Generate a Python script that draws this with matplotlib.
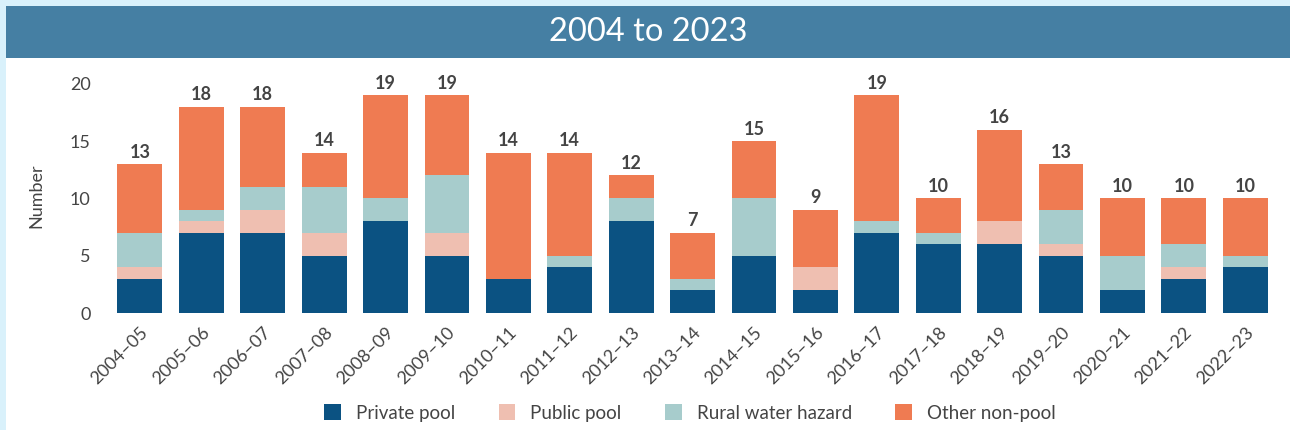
import matplotlib.pyplot as plt
from matplotlib.patches import Rectangle
import numpy as np

plt.rcParams['font.family'] = ['Lato', 'DejaVu Sans']

# data
years = ['2004–05', '2005–06', '2006–07', '2007–08', '2008–09', '2009–10', '2010–11',
         '2011–12', '2012–13', '2013–14', '2014–15', '2015–16', '2016–17', '2017–18',
         '2018–19', '2019–20', '2020–21', '2021–22', '2022–23']
private_pool = [3, 7, 7, 5, 8, 5, 3, 4, 8, 2, 5, 2, 7, 6, 6, 5, 2, 3, 4]
public_pool  = [1, 1, 2, 2, 0, 2, 0, 0, 0, 0, 0, 2, 0, 0, 2, 1, 0, 1, 0]
rural_water  = [3, 1, 2, 4, 2, 5, 0, 1, 2, 1, 5, 0, 1, 1, 0, 3, 3, 2, 1]
other_nonpool = [6, 9, 7, 3, 9, 7, 11, 9, 2, 4, 5, 5, 11, 3, 8, 4, 5, 4, 5]

series = [('Private pool', private_pool, '#0b5282'),
          ('Public pool', public_pool, '#efbfb1'),
          ('Rural water hazard', rural_water, '#a7cccc'),
          ('Other non-pool', other_nonpool, '#ef7b52')]

W, H = 1290, 430
fig = plt.figure(figsize=(W / 100, H / 100), dpi=100, facecolor='#d9f1fb')

# white panel and title banner
fig.patches.append(Rectangle((6 / W, 0), 1, (H - 6) / H, transform=fig.transFigure,
                             facecolor='white', edgecolor='none', zorder=0))
fig.patches.append(Rectangle((6 / W, (H - 58) / H), 1, 52 / H, transform=fig.transFigure,
                             facecolor='#457fa3', edgecolor='none', zorder=1))
fig.text(0.5 + 3 / W, (H - 32) / H, '2004 to 2023', color='white', fontsize=23.5,
         ha='center', va='center', zorder=2)

ax = fig.add_axes([103 / W, (H - 313) / H, (1276 - 103) / W, (313 - 78) / H])
ax.set_zorder(3)
ax.set_facecolor('none')

x = np.arange(len(years))
bottom = np.zeros(len(years))
for name, vals, col in series:
    ax.bar(x, vals, 0.73, bottom=bottom, color=col, label=name, zorder=2)
    bottom += np.array(vals)

for xi, tot in zip(x, bottom):
    ax.text(xi, tot + 0.3, f'{int(tot)}', ha='center', va='bottom', fontsize=13,
            fontweight='bold', color='#444444', clip_on=False)

ax.set_xlim(-0.6, len(years) - 0.5)
ax.set_ylim(0, 20.5)
ax.set_yticks([0, 5, 10, 15, 20])
ax.set_xticks(x)
ax.set_xticklabels(years, rotation=45, ha='right', rotation_mode='anchor')
ax.tick_params(axis='both', length=0, labelsize=13, labelcolor='#444444')
ax.tick_params(axis='x', pad=8)
ax.tick_params(axis='y', pad=9)
for s in ax.spines.values():
    s.set_visible(False)
ax.set_ylabel('Number', fontsize=13, color='#444444', labelpad=18)

handles, labels = ax.get_legend_handles_labels()
fig.legend(handles, labels, loc='center', bbox_to_anchor=(690 / W, (H - 413) / H),
           ncol=4, frameon=False, fontsize=13.5, handlelength=0.9, handleheight=0.9,
           columnspacing=2.3, handletextpad=0.8, labelcolor='#444444')

fig.savefig('out.png', dpi=100, facecolor=fig.get_facecolor())
